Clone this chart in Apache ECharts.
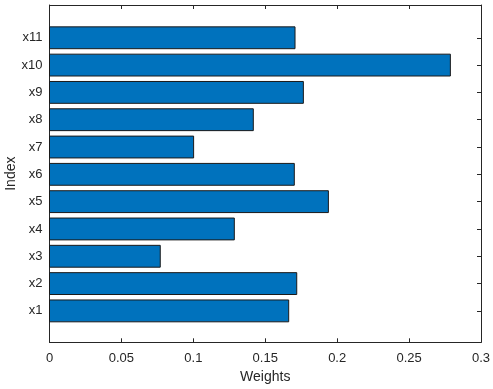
<!DOCTYPE html>
<html><head><meta charset="utf-8">
<script src="https://cdn.jsdelivr.net/npm/echarts@6/dist/echarts.min.js"></script>
<style>html,body{margin:0;padding:0;background:#fff}#c{width:493px;height:389px}</style>
</head><body><div id="c"></div>
<script>
const categories = ['x1','x2','x3','x4','x5','x6','x7','x8','x9','x10','x11'];
const weights = [0.1663, 0.1719, 0.0770, 0.1285, 0.1939, 0.1702, 0.1002, 0.1417, 0.1765, 0.2787, 0.1707];
const xTicks = {min: 0, max: 0.3, interval: 0.05};
const yRange = {min: -0.15, max: 12.2};

const positions = categories.map((c, i) => i + 1);
const data = weights.map((w, i) => [w, positions[i]]);
const axisColor = '#262626';
const font = 'Liberation Sans, Arial, sans-serif';
const chart = echarts.init(document.getElementById('c'), null, {renderer: 'canvas'});
function line() { return {show: true, onZero: false, lineStyle: {color: axisColor, width: 1}}; }
function yTick() { return {show: true, inside: true, length: 4, customValues: positions.slice(), lineStyle: {color: axisColor}}; }
function xTick() { return {show: true, inside: true, length: 4, lineStyle: {color: axisColor}}; }
chart.setOption({
  animation: false,
  grid: {left: 49.5, right: 12, top: 5, bottom: 46.7, containLabel: false, outerBoundsMode: 'none'},
  xAxis: [{
    type: 'value', min: xTicks.min, max: xTicks.max, interval: xTicks.interval,
    name: 'Weights', nameLocation: 'middle', nameGap: 28, nameMoveOverlap: false,
    nameTextStyle: {color: axisColor, fontSize: 14, fontFamily: font},
    axisLine: line(), axisTick: xTick(),
    axisLabel: {color: axisColor, fontSize: 13, fontFamily: font, margin: 10},
    splitLine: {show: false}
  }, {
    type: 'value', position: 'top', min: xTicks.min, max: xTicks.max, interval: xTicks.interval,
    axisLine: line(), axisTick: xTick(),
    axisLabel: {show: false}, splitLine: {show: false}
  }],
  yAxis: [{
    type: 'value', min: yRange.min, max: yRange.max,
    name: 'Index', nameLocation: 'middle', nameGap: 31, nameRotate: 90, nameMoveOverlap: false,
    nameTextStyle: {color: axisColor, fontSize: 14, fontFamily: font},
    axisLine: line(), axisTick: yTick(),
    axisLabel: {color: axisColor, fontSize: 13, fontFamily: font, margin: 7,
      customValues: positions.slice(), formatter: v => categories[Math.round(v) - 1] || ''},
    splitLine: {show: false}
  }, {
    type: 'value', min: yRange.min, max: yRange.max, position: 'right',
    axisLine: line(), axisTick: yTick(),
    axisLabel: {show: false}, splitLine: {show: false}
  }],
  series: [{
    type: 'custom', data: data, encode: {x: 0, y: 1}, xAxisIndex: 0, yAxisIndex: 0,
    renderItem: function(params, api) {
      const v = api.value(0), i = api.value(1);
      const s = api.coord([0, i]);
      const e = api.coord([v, i]);
      const h = api.size([0, 0.8])[1];
      return {type: 'rect', shape: {x: s[0], y: s[1] - h / 2, width: e[0] - s[0], height: h},
        style: {fill: '#0072BD', stroke: '#1a1a1a', lineWidth: 1}};
    }
  }]
});
</script></body></html>
